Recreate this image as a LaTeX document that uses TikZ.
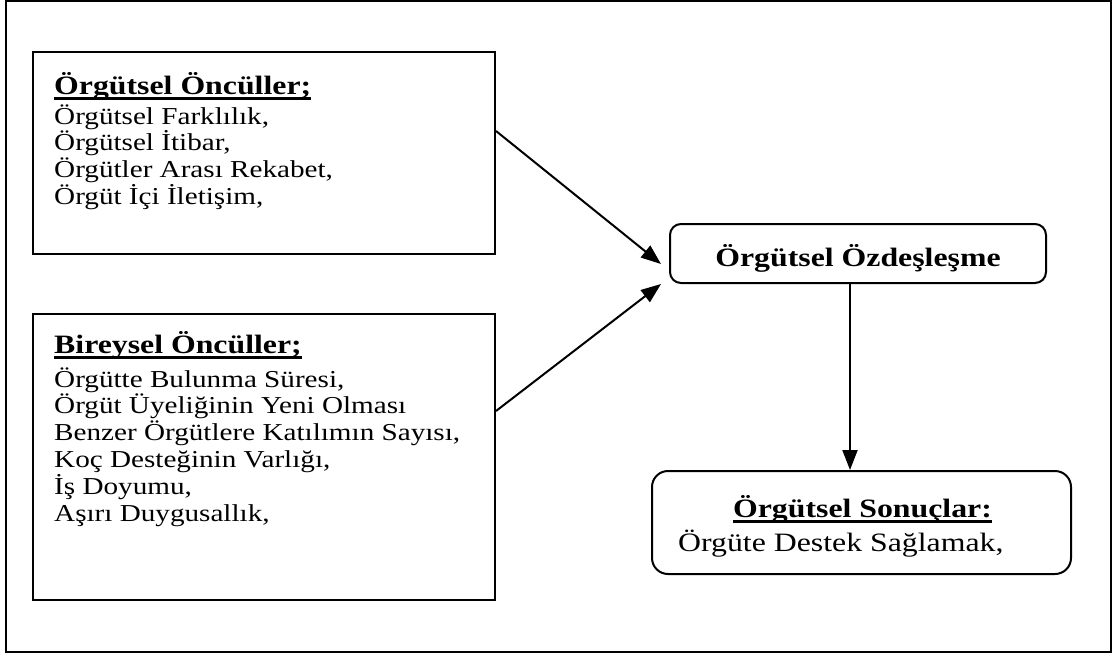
\documentclass[tikz,border=0pt]{standalone}
\usepackage{fontspec}
\setmainfont{Liberation Serif}[FakeStretch=1.2]
\usetikzlibrary{arrows.meta}

% bold heading with a rule set at a fixed depth under the baseline
\newcommand\headrule[1]{\setbox0=\hbox{#1}\rlap{\rule[-5.5pt]{\wd0}{2.5pt}}\box0}
% left-aligned stack of lines; the box baseline is the first line
\newcommand\linestack[2]{%
  \vtop{\baselineskip=#1\lineskiplimit=-100pt\lineskip=0pt\relax
    \halign{##\hfil\cr#2\crcr}}}
\newcommand\headfont{\fontsize{26.5}{30}\selectfont\bfseries}
\newcommand\bodyfont{\fontsize{24.3}{26.7}\selectfont}
\newcommand\resultfont{\fontsize{26.5}{30}\selectfont}

\tikzset{
  frame/.style={draw, line width=2pt, inner sep=0pt},
  sqbox/.style={frame, minimum width=462pt},
  rbox/.style={frame},
  txt/.style={inner sep=0pt},
  arr/.style={line width=2pt, -{Triangle[length=20pt,width=15pt]}},
}

\begin{document}
\begin{tikzpicture}[x=1pt,y=-1pt]
\useasboundingbox (0,0) rectangle (1117,664);
\draw[line width=2pt] (6,1) rectangle (1111,652);

% antecedent boxes
\node[sqbox, minimum height=202pt] (b1) at (264,153) {};
\node[sqbox, minimum height=286pt] (b2) at (264,457) {};

\node[txt, anchor=base west, font=\bodyfont] (t1) at (54,94) {\linestack{26.7pt}{%
  {\headfont\headrule{Örgütsel Öncüller;}}\cr
  \noalign{\vskip 3.3pt}
  Örgütsel Farklılık,\cr
  Örgütsel İtibar,\cr
  Örgütler Arası Rekabet,\cr
  Örgüt İçi İletişim,\cr}};

\node[txt, anchor=base west, font=\bodyfont] (t2) at (54,353) {\linestack{26.8pt}{%
  {\headfont\headrule{Bireysel Öncüller;}}\cr
  \noalign{\vskip 7.2pt}
  Örgütte Bulunma Süresi,\cr
  Örgüt Üyeliğinin Yeni Olması\cr
  Benzer Örgütlere Katılımın Sayısı,\cr
  Koç Desteğinin Varlığı,\cr
  İş Doyumu,\cr
  Aşırı Duygusallık,\cr}};

% identification box
\node[rbox, rounded corners=11pt, minimum width=376pt, text height=42pt,
      text depth=17pt, font=\headfont] (b3) at (858,253.5) {Örgütsel Özdeşleşme};

% outcome box
\node[rbox, rounded corners=16pt, minimum width=419pt, minimum height=103pt] (b4) at (861.5,522.5) {};
\node[txt, anchor=base, font=\headfont] (t4a) at (862.5,517) {\headrule{Örgütsel Sonuçlar:}};
\node[txt, anchor=base west, font=\resultfont] (t4b) at (678,551) {Örgüte Destek Sağlamak,};

% connectors
\draw[arr] ([yshift=22pt]b1.east) -- ([xshift=-8pt,yshift=-10.5pt]b3.west);
\draw[arr] ([yshift=46pt]b2.east) -- ([xshift=-8pt]b3.south west);
\draw[arr] ([xshift=-8pt]b3.south) -- ([xshift=-8pt]b3.south |- b4.north);
\end{tikzpicture}
\end{document}
